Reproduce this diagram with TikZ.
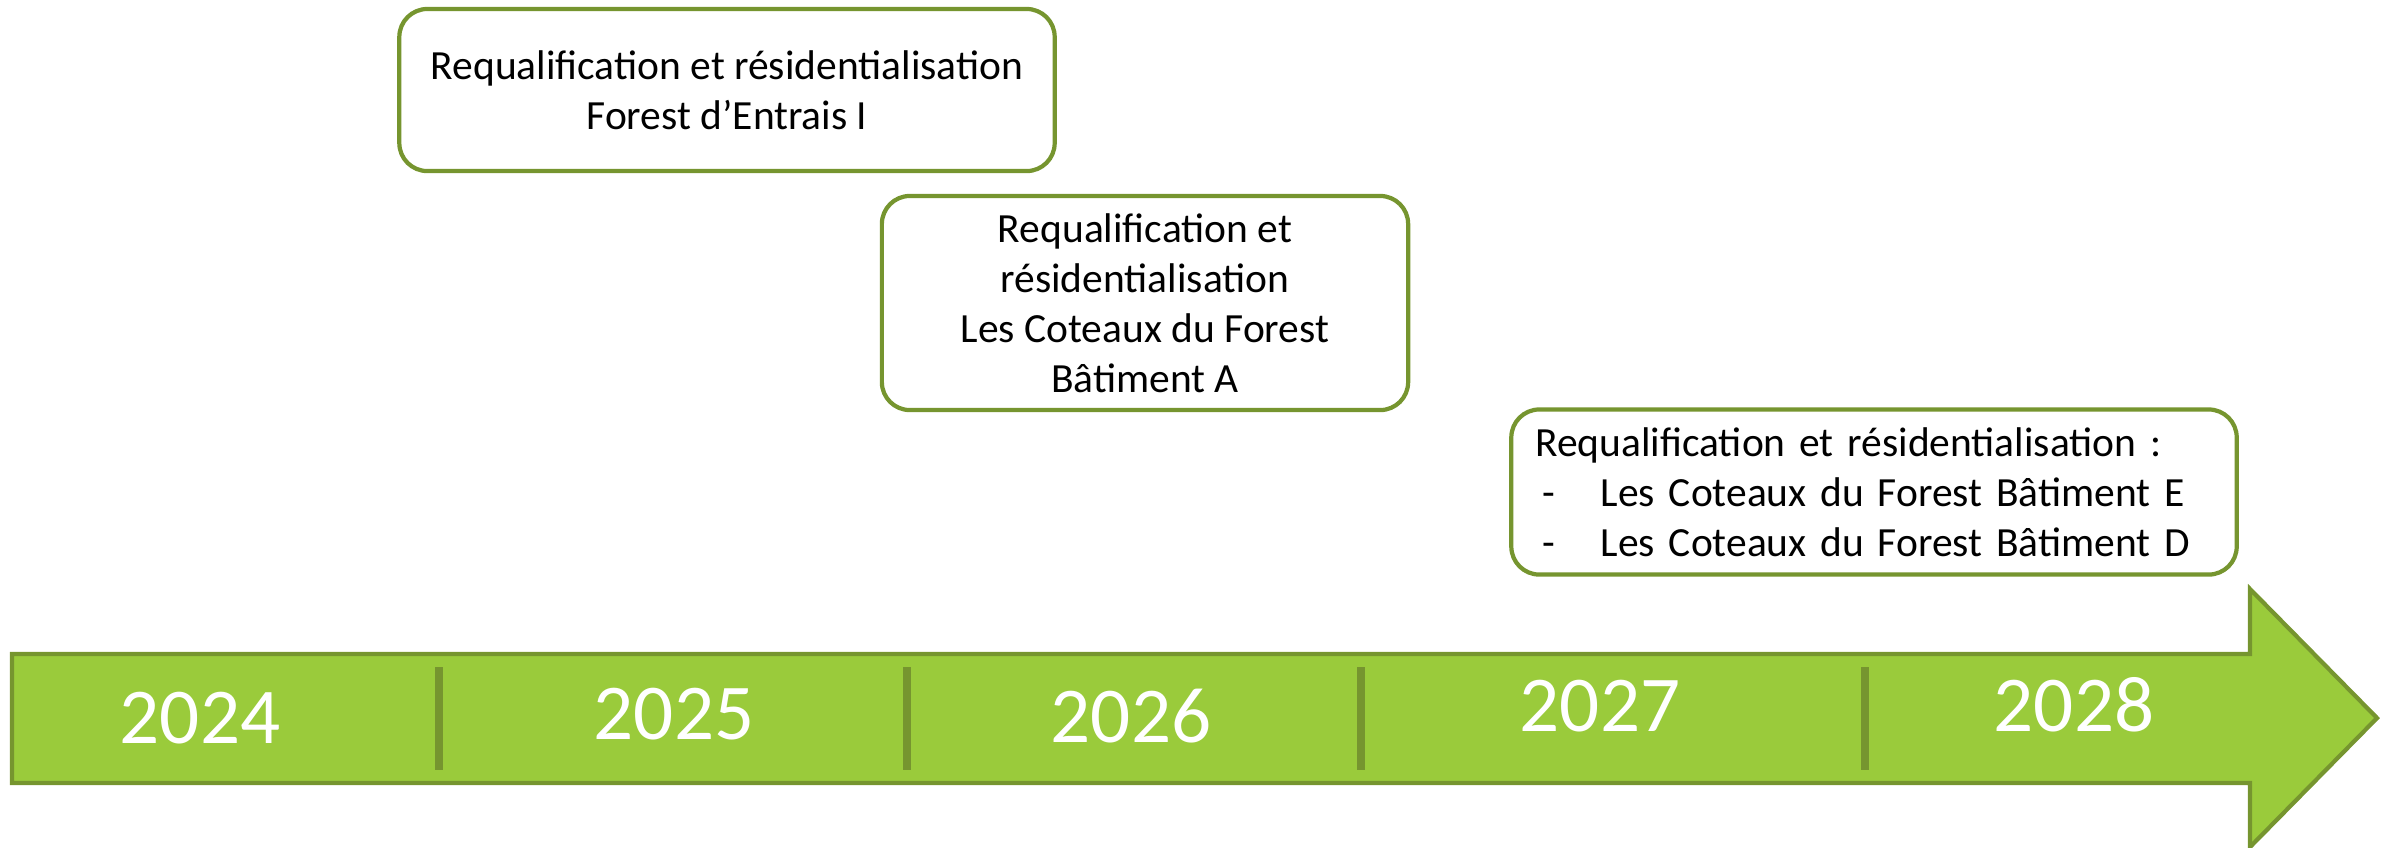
\documentclass[tikz,border=0pt]{standalone}
\usepackage{fontspec}
\setmainfont{Carlito}
\definecolor{leaf}{HTML}{9ACB3B}
\definecolor{olive}{HTML}{76952F}
\begin{document}
\begin{tikzpicture}[x=0.01cm,y=-0.01cm,
    phase/.style={draw=olive,line width=1.2pt,rounded corners=0.28cm,fill=white,
      align=center,inner sep=0pt,font=\fontsize{11.8}{14.2}\selectfont},
    year/.style={text=white,font=\fontsize{22.5}{26}\selectfont},
    tick/.style={draw=olive,line width=2.3pt}]
  \useasboundingbox (0,0) rectangle (2397,847);

  % the time arrow
  \draw[draw=olive,fill=leaf,line width=1.2pt]
    (12,654) -- (2250,654) -- (2250,589) -- (2377,718) -- (2250,847)
    -- (2250,783) -- (12,783) -- cycle;
  \foreach \xpos in {439,907,1361,1865}
    \draw[tick] (\xpos,667) -- (\xpos,770);

  \path (200,718) node[year] (y24) {2024};
  \path (674,714) node[year] (y25) {2025};
  \path (1131,716) node[year] (y26) {2026};
  \path (1600,706) node[year] (y27) {2027};
  \path (2074,705) node[year] (y28) {2028};

  % the works above it
  \path (727,90) node[phase,minimum width=6.55cm,minimum height=1.62cm,
      text depth=-0.2cm] (fe)
    {Requalification et résidentialisation\\Forest d’Entrais I};
  \path (1145,303) node[phase,minimum width=5.26cm,minimum height=2.14cm] (cfa)
    {Requalification et\\résidentialisation\\Les Coteaux du Forest\\Bâtiment A};
  \path (1874,492) node[phase,minimum width=7.25cm,minimum height=1.65cm,
      inner xsep=0.24cm,text width=6.77cm,align=left] (cfed)
    {Requalification et résidentialisation :\\
     \hspace*{2pt}-\hspace*{13pt}Les Coteaux du Forest Bâtiment E\\
     \hspace*{2pt}-\hspace*{13pt}Les Coteaux du Forest Bâtiment D};
\end{tikzpicture}
\end{document}
